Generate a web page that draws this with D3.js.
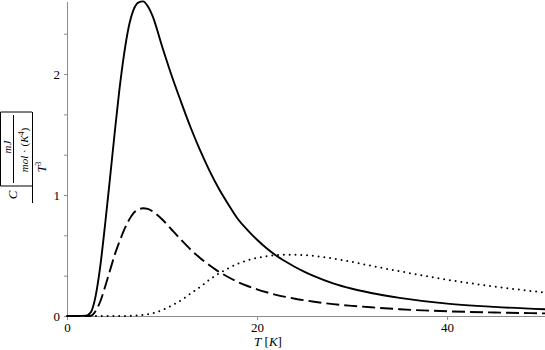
<!DOCTYPE html>
<html>
<head>
<meta charset="utf-8">
<script src="https://cdn.jsdelivr.net/npm/d3@7"></script>
<style>
  body { margin: 0; background: #fff; }
  text { font-family: "Liberation Serif", "DejaVu Serif", serif; fill: #000; }
  .axis path, .axis line { stroke: #8c8c8c; }
  .axis text { font-size: 13px; }
</style>
</head>
<body>
<svg class="heat-frame"></svg>
<script>
// temperature grid (K)
const temps = [0, 1, 2, 2.5, 3, 3.5, 4, 4.5, 5, 5.5, 6, 6.5, 7, 7.5, 8, 8.5, 9, 10, 11, 12, 13, 14, 15, 16, 17, 18, 19, 20, 21, 22, 23, 24, 25, 26, 28, 30, 32, 35, 40, 45, 50.3];

// C / T^3
const solidVals = [0, 0, 0.003, 0.03, 0.16, 0.41, 0.75, 1.12, 1.5, 1.86, 2.16, 2.39, 2.53, 2.59, 2.6, 2.56, 2.48, 2.23, 1.99, 1.77, 1.56, 1.37, 1.2, 1.05, 0.92, 0.8, 0.71, 0.63, 0.56, 0.5, 0.45, 0.405, 0.365, 0.33, 0.27, 0.225, 0.19, 0.15, 0.102, 0.075, 0.056];
const dashedVals = [0, 0, 0, 0.002, 0.04, 0.12, 0.24, 0.37, 0.5, 0.61, 0.71, 0.79, 0.85, 0.88, 0.89, 0.885, 0.865, 0.8, 0.715, 0.63, 0.55, 0.48, 0.42, 0.365, 0.32, 0.28, 0.248, 0.22, 0.196, 0.175, 0.158, 0.143, 0.13, 0.118, 0.098, 0.084, 0.072, 0.056, 0.039, 0.029, 0.0215];
const dottedVals = [0, 0, 0, 0, 0, 0, 0, 0, 0, 0, 0, 0.001, 0.002, 0.004, 0.008, 0.014, 0.022, 0.048, 0.085, 0.13, 0.185, 0.24, 0.3, 0.352, 0.395, 0.433, 0.46, 0.48, 0.494, 0.502, 0.506, 0.506, 0.503, 0.496, 0.475, 0.447, 0.415, 0.37, 0.3, 0.243, 0.194];

const xTicks = [0, 20, 40];
const yTicks = [0, 1, 2];

const width = 545, height = 350;
const margin = {top: 1.4, right: 0, bottom: 34, left: 67};

const svg = d3.select(".heat-frame")
  .attr("width", width)
  .attr("height", height);

const xScale = d3.scaleLinear()
  .domain([0, 50.3])
  .range([margin.left, width - margin.right]);

const yScale = d3.scaleLinear()
  .domain([0, 2.6])
  .range([height - margin.bottom, margin.top]);

// axes
const xAxis = d3.axisBottom(xScale)
  .tickValues(xTicks)
  .tickSize(4)
  .tickPadding(3)
  .tickSizeOuter(0)
  .tickFormat(d3.format("d"));

svg.append("g")
  .attr("class", "axis")
  .attr("transform", "translate(0," + yScale(0) + ")")
  .call(xAxis)
  .call(g => g.selectAll("text").attr("fill", "#000"));

const yMinor = d3.axisLeft(yScale)
  .tickValues(d3.range(0, 2.55, 1 / 3))
  .tickSize(3)
  .tickSizeOuter(0)
  .tickFormat("");

svg.append("g")
  .attr("class", "axis")
  .attr("transform", "translate(" + margin.left + ",0)")
  .call(yMinor);

const yAxis = d3.axisLeft(yScale)
  .tickValues(yTicks)
  .tickSize(3)
  .tickPadding(4)
  .tickFormat(d3.format("d"));

svg.append("g")
  .attr("class", "axis")
  .attr("transform", "translate(" + margin.left + ",0)")
  .call(yAxis)
  .call(g => g.select(".domain").remove())
  .call(g => g.selectAll("text").attr("fill", "#000"));

// curves
const series = [
  {vals: solidVals, dash: null, cap: "butt"},
  {vals: dashedVals, dash: "13,5", cap: "butt"},
  {vals: dottedVals, dash: "0,5.8", cap: "round"}
];

const line = d3.line()
  .x(d => xScale(d[0]))
  .y(d => yScale(d[1]))
  .curve(d3.curveMonotoneX);

series.forEach(s => {
  svg.append("path")
    .datum(temps.map((t, i) => [t, s.vals[i]]))
    .attr("fill", "none")
    .attr("stroke", "#000")
    .attr("stroke-width", s.dash === "0,5.8" ? 2 : 1.9)
    .attr("stroke-linecap", s.cap)
    .attr("stroke-dasharray", s.dash)
    .attr("d", line);
});

// x label
const xl = svg.append("text")
  .attr("x", 268)
  .attr("y", 346)
  .attr("text-anchor", "middle")
  .style("font-size", "13px");
xl.append("tspan").style("font-style", "italic").text("T");
xl.append("tspan").text(" [");
xl.append("tspan").style("font-style", "italic").text("K");
xl.append("tspan").text("]");

// y label, rotated: local (u, v) -> screen (x = v, y = -u)
const yl = svg.append("g")
  .attr("transform", "rotate(-90)")
  .style("font-style", "italic");

const bar = (u1, v1, u2, v2) => yl.append("line")
  .attr("x1", u1).attr("y1", v1).attr("x2", u2).attr("y2", v2)
  .attr("stroke", "#000").attr("stroke-width", 1);

bar(-203, 32.5, -112, 32.5);   // outer fraction bar
bar(-186, 0.5, -112, 0.5);     // bracket side
bar(-112, 0.5, -112, 32);      // closing bracket
bar(-186, 0.5, -186, 32);      // opening bracket
bar(-183, 13.5, -115, 13.5);   // inner fraction bar

yl.append("text")
  .attr("x", -195).attr("y", 16.5)
  .attr("text-anchor", "middle")
  .style("font-size", "13px")
  .text("C");

yl.append("text")
  .attr("x", -147).attr("y", 10.5)
  .attr("text-anchor", "middle")
  .style("font-size", "11px")
  .text("mJ");

const den = yl.append("text")
  .attr("x", -150).attr("y", 27.5)
  .attr("text-anchor", "middle")
  .style("font-size", "11px");
den.append("tspan").text("mol");
den.append("tspan").style("font-style", "normal").text(" \u00b7 (");
den.append("tspan").text("K");
den.append("tspan").attr("dy", -4).style("font-size", "8px").style("font-style", "normal").text("4");
den.append("tspan").attr("dy", 4).style("font-style", "normal").text(")");

const tt = yl.append("text")
  .attr("x", -167).attr("y", 46)
  .attr("text-anchor", "middle")
  .style("font-size", "12px");
tt.append("tspan").text("T");
tt.append("tspan").attr("dy", -5).style("font-size", "8px").style("font-style", "normal").text("3");
</script>
</body>
</html>
